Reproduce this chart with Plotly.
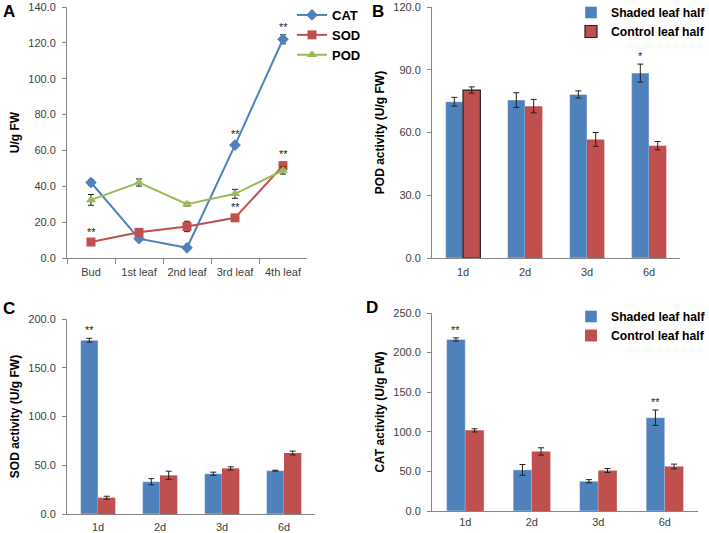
import plotly.graph_objects as go

W, H = 709, 533

# ---------------- data ----------------
stages = ["Bud", "1st leaf", "2nd leaf", "3rd leaf", "4th leaf"]
cat_a = [42.1, 10.8, 5.7, 63.0, 122.0]
cat_a_err = [1.5, 1.0, 0.8, 1.5, 2.5]
sod_a = [8.9, 14.3, 17.6, 22.4, 51.5]
sod_a_err = [1.0, 1.5, 2.9, 1.5, 2.0]
pod_a = [32.4, 42.1, 30.0, 35.8, 48.8]
pod_a_err = [3.0, 2.0, 1.0, 2.5, 2.0]
cat_a_sig = ["", "", "", "**", "**"]
sod_a_sig = ["**", "", "", "**", "**"]

days = ["1d", "2d", "3d", "6d"]
pod_shaded = [74.7, 75.5, 78.2, 88.4]
pod_shaded_err = [2.1, 3.5, 1.7, 4.3]
pod_control = [80.3, 72.6, 56.7, 53.7]
pod_control_err = [1.5, 3.2, 3.3, 2.0]
pod_sig = ["", "", "", "*"]

sod_shaded = [178.2, 33.1, 41.3, 44.4]
sod_shaded_err = [2.0, 3.2, 1.6, 0.5]
sod_control = [16.7, 39.6, 46.8, 62.5]
sod_control_err = [1.5, 4.3, 1.6, 2.0]
sod_sig = ["**", "", "", ""]

cat_shaded = [216.6, 51.9, 37.6, 117.8]
cat_shaded_err = [2.0, 6.8, 2.0, 9.7]
cat_control = [101.8, 75.2, 51.1, 56.2]
cat_control_err = [2.0, 4.6, 2.5, 3.0]
cat_sig = ["**", "", "", "**"]

BLUE = "#4F81BD"
RED = "#C0504D"
GREEN = "#9BBB59"
AXIS = "#868686"
TXT = "#404040"
FONT = "Liberation Sans, Arial, sans-serif"

def px_x(a, b):
    return [a / W, b / W]

def px_y(top, bottom):
    return [1 - bottom / H, 1 - top / H]

def bold(s):
    return "<b>" + s + "</b>"

fig = go.Figure()

# ---------------- panel A ----------------
def line_trace(name, vals, errs, color, symbol, size):
    return go.Scatter(
        x=stages, y=vals, name=bold(name), mode="lines+markers",
        line=dict(color=color, width=2),
        marker=dict(symbol=symbol, size=size, color=color),
        error_y=dict(type="data", array=errs, color="#222222", thickness=1, width=3),
        xaxis="x", yaxis="y", legend="legend",
    )

fig.add_trace(line_trace("CAT", cat_a, cat_a_err, BLUE, "diamond", 9))
fig.add_trace(line_trace("SOD", sod_a, sod_a_err, RED, "square", 9))
fig.add_trace(line_trace("POD", pod_a, pod_a_err, GREEN, "triangle-up", 9))

# ---------------- bar panels ----------------
def bar_pair(xa, ya, shaded, shaded_err, control, control_err, legend, show, outline_first_control=False):
    fig.add_trace(go.Bar(
        x=days, y=shaded, name=bold("Shaded leaf half"), marker=dict(color=BLUE),
        error_y=dict(type="data", array=shaded_err, color="#222222", thickness=1, width=3),
        xaxis=xa, yaxis=ya, legend=legend, showlegend=show, offsetgroup="s",
    ))
    lw = [1.2 if (outline_first_control and i == 0) else 0 for i in range(len(days))]
    fig.add_trace(go.Bar(
        x=days, y=control, name=bold("Control leaf half"),
        marker=dict(color=RED, line=dict(color="#222222", width=lw)),
        error_y=dict(type="data", array=control_err, color="#222222", thickness=1, width=3),
        xaxis=xa, yaxis=ya, legend=legend, showlegend=show, offsetgroup="c",
    ))

bar_pair("x2", "y2", pod_shaded, pod_shaded_err, pod_control, pod_control_err, "legend2", True, True)
bar_pair("x3", "y3", sod_shaded, sod_shaded_err, sod_control, sod_control_err, "legend2", False)
bar_pair("x4", "y4", cat_shaded, cat_shaded_err, cat_control, cat_control_err, "legend3", True)

# ---------------- axes ----------------
tickfont = dict(family=FONT, size=11, color=TXT)
titlefont = dict(family=FONT, size=12, color="#000000", weight="bold")

def yax(domain_y, rng, dtick, title, anchor):
    return dict(
        domain=domain_y, range=rng, dtick=dtick, tickformat=".1f",
        showline=True, linecolor=AXIS, linewidth=1, ticks="outside", ticklen=4,
        tickcolor=AXIS, showgrid=False, zeroline=False, tickfont=tickfont,
        ticklabelstandoff=4,
        title=dict(text=title, font=titlefont, standoff=6), anchor=anchor,
    )

def xax(domain_x, n, anchor, standoff, boundary_ticks=False):
    d = dict(
        domain=domain_x, range=[-0.5, n - 0.5], type="category",
        showline=True, linecolor=AXIS, linewidth=1, showgrid=False, zeroline=False,
        tickfont=tickfont, anchor=anchor, tickangle=0, ticklabelstandoff=standoff,
    )
    if boundary_ticks:
        d.update(ticks="outside", tickson="boundaries", ticklen=5, tickcolor=AXIS)
    else:
        d.update(ticks="")
    return d

fig.update_layout(
    xaxis=xax(px_x(67, 307), 5, "y", 4, True),
    yaxis=yax(px_y(7, 258), [0, 140], 20, "U/g FW", "x"),
    xaxis2=xax(px_x(432, 680), 4, "y2", 4),
    yaxis2=yax(px_y(7, 258), [0, 120], 30, "POD activity (U/g FW)", "x2"),
    xaxis3=xax(px_x(67, 315), 4, "y3", 3),
    yaxis3=yax(px_y(319, 514), [0, 200], 50, "SOD activity (U/g FW)", "x3"),
    xaxis4=xax(px_x(432, 698), 4, "y4", 1),
    yaxis4=yax(px_y(313, 511), [0, 250], 50, "CAT activity (U/g FW)", "x4"),
)

# ---------------- significance marks ----------------
ann = []
def sig_marks(sigs, vals, errs, xref, yref, offset=0.0):
    for i, s in enumerate(sigs):
        if s:
            ann.append(dict(x=i + offset, y=vals[i] + errs[i], xref=xref, yref=yref, text=s,
                            showarrow=False, yanchor="middle", yshift=8,
                            font=dict(family=FONT, size=11, color="#222222")))

sig_marks(cat_a_sig, cat_a, cat_a_err, "x", "y")
sig_marks(sod_a_sig, sod_a, sod_a_err, "x", "y")
sig_marks(pod_sig, pod_shaded, pod_shaded_err, "x2", "y2", -0.14)
sig_marks(sod_sig, sod_shaded, sod_shaded_err, "x3", "y3", -0.14)
sig_marks(cat_sig, cat_shaded, cat_shaded_err, "x4", "y4", -0.14)

# panel letters
for letter, px, py in [("A", 9, 11), ("B", 378, 12), ("C", 9, 308), ("D", 372, 307)]:
    ann.append(dict(x=px / W, y=1 - py / H, xref="paper", yref="paper", text=letter,
                    showarrow=False, xanchor="center", yanchor="middle",
                    font=dict(family=FONT, size=17, color="#000000", weight="bold")))

legfont = dict(family=FONT, size=13, color="#000000")
barlegfont = dict(family=FONT, size=12.2, color="#000000")
fig.update_layout(
    annotations=ann,
    width=W, height=H,
    margin=dict(l=0, r=0, t=0, b=0, autoexpand=False),
    paper_bgcolor="white", plot_bgcolor="white",
    barmode="group", bargap=0.44, bargroupgap=0,
    legend=dict(x=292 / W, y=1 - 0 / H, xanchor="left", yanchor="top", font=legfont,
                bgcolor="rgba(0,0,0,0)", tracegroupgap=0, itemwidth=30),
    legend2=dict(x=571 / W, y=1 + 2 / H, xanchor="left", yanchor="top", font=barlegfont,
                 bgcolor="rgba(0,0,0,0)", itemwidth=30),
    legend3=dict(x=571 / W, y=1 - 302 / H, xanchor="left", yanchor="top", font=barlegfont,
                 bgcolor="rgba(0,0,0,0)", itemwidth=30),
    showlegend=True,
)

fig.write_html("out.html", config={"displayModeBar": False},
               post_script="document.body.style.margin='0';")
